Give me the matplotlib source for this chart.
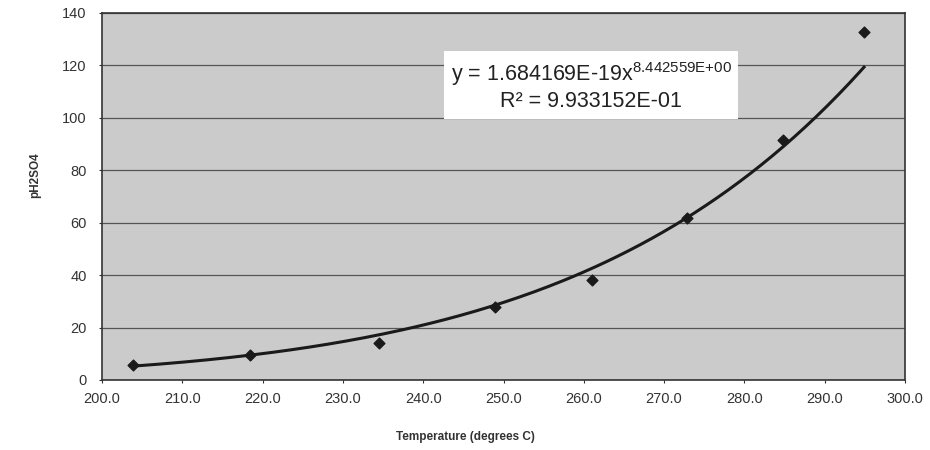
import numpy as np
import matplotlib
matplotlib.use('Agg')
import matplotlib.pyplot as plt

plt.rcParams['font.family'] = ['Liberation Sans', 'DejaVu Sans']

# datos
temperatura = [203.9, 218.4, 234.5, 248.9, 261.0, 272.9, 284.8, 294.9]
ph2so4 = [5.7, 9.6, 14.0, 28.0, 38.2, 61.6, 91.5, 132.6]

# coeficientes de la linea de tendencia (potencia)
coef_a = 1.684169E-19
coef_b = 8.442559
ecuacion = r'y = 1.684169E-19x$^{\mathregular{8.442559E{+}00}}$'
r2_texto = 'R² = 9.933152E-01'

y_ticks = [0, 20, 40, 60, 80, 100, 120, 140]
x_ticks = [200, 210, 220, 230, 240, 250, 260, 270, 280, 290, 300]

fig = plt.figure(figsize=(9.3, 4.5), dpi=100)
ax = fig.add_axes([0.1097, 0.1556, 0.8634, 0.8156])
ax.set_facecolor('#cbcbcb')

ax.set_xlim(200, 300)
ax.set_ylim(0, 140)
ax.set_xticks(x_ticks)
ax.set_xticklabels(['{0:.1f}'.format(t) for t in x_ticks])
ax.set_yticks(y_ticks)
ax.tick_params(axis='both', labelsize=10.5, colors='#333333', length=2, direction='out')
ax.tick_params(axis='x', pad=7)
ax.tick_params(axis='y', pad=9)

ax.yaxis.grid(True, color='#555555', linewidth=0.9)
ax.set_axisbelow(True)
for s in ax.spines.values():
    s.set_color('#333333')
    s.set_linewidth(1.2)

# linea de tendencia
xs = np.linspace(min(temperatura), max(temperatura), 200)
ax.plot(xs, coef_a * xs ** coef_b, color='#1a1a1a', linewidth=2.2, zorder=3)
ax.scatter(temperatura, ph2so4, marker='D', s=30, color='#1a1a1a', zorder=4)

ax.text(0.609, 0.80, ecuacion + '\n' + r2_texto,
        transform=ax.transAxes, ha='center', va='center', fontsize=15.5,
        color='#222222', linespacing=1.2,
        bbox=dict(facecolor='white', edgecolor='none', pad=5))

fig.text(0.5, 0.029, 'Temperature (degrees C)', ha='center', va='center',
         fontsize=8.5, fontweight='bold', color='#333333')
fig.text(0.038, 0.61, 'pH2SO4', ha='center', va='center', rotation=90,
         fontsize=8.5, fontweight='bold', color='#333333')

fig.savefig('out.png', dpi=100, facecolor='white')
